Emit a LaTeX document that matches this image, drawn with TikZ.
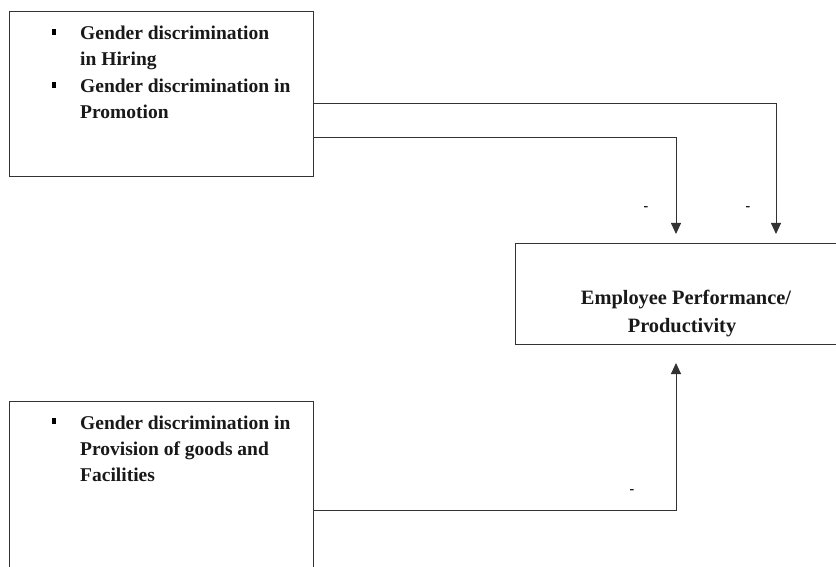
\documentclass[tikz,border=0pt]{standalone}
\usepackage{fontspec}
\setmainfont{Liberation Serif}
\usetikzlibrary{arrows.meta,calc}
\begin{document}
\begin{tikzpicture}[x=1pt,y=-1pt,
  box/.style={draw=black!80,line width=1pt,rectangle,inner sep=0pt,anchor=north west},
  txt/.style={font=\fontsize{19.5}{24}\selectfont\bfseries,anchor=base west,inner sep=0pt,text=black!90},
  ctxt/.style={font=\fontsize{20.4}{24}\selectfont\bfseries,anchor=base,inner sep=0pt,text=black!90},
  bul/.style={fill=black,inner sep=0pt,minimum width=4.5pt,minimum height=5.5pt},
  sign/.style={font=\fontsize{14}{16}\selectfont\bfseries,inner sep=0pt},
  conn/.style={draw=black!80,line width=0.9pt,-{Triangle[width=10pt,length=11pt]}}]
\useasboundingbox (0,0) rectangle (836,567);
\fill[white] (0,0) rectangle (836,567);
\clip (0,0) rectangle (836,567);
% boxes
\node[box,minimum width=304pt,minimum height=165pt] (b1) at (9,11) {};
\node[box,minimum width=340pt,minimum height=101pt] (emp) at (515,243) {};
\node[box,minimum width=304pt,minimum height=185pt] (b3) at (9,401) {};
% box 1 text
\node[bul] (b1a) at (54,32) {};
\node[txt] (t1a) at (80,40) {Gender discrimination};
\node[txt] (t1b) at (80,66) {in Hiring};
\node[bul] (b1b) at (54,85) {};
\node[txt] (t1c) at (80,93) {Gender discrimination in};
\node[txt] (t1d) at (80,119) {Promotion};
% box 3 text
\node[bul] (b3a) at (54,421) {};
\node[txt] (t3a) at (80,429) {Gender discrimination in};
\node[txt] (t3b) at (80,455) {Provision of goods and};
\node[txt] (t3c) at (80,481) {Facilities};
% employee text
\node[ctxt] (e1) at (686,304) {Employee Performance/};
\node[ctxt] (e2) at (682,332) {Productivity};
% signs
\node[sign] (s1) at (646,209) {-};
\node[sign] (s2) at (748,209) {-};
\node[sign] (s3) at (632,492) {-};
% connectors
\draw[conn,shorten >=9pt] ($(b1.north east)+(0,92)$) -| ($(emp.north west)+(261,0)$);
\draw[conn,shorten >=9pt] ($(b1.north east)+(0,126)$) -| ($(emp.north west)+(161,0)$);
\draw[conn,shorten >=18pt] ($(b3.north east)+(0,109)$) -| ($(emp.south west)+(161,0)$);
\end{tikzpicture}
\end{document}
